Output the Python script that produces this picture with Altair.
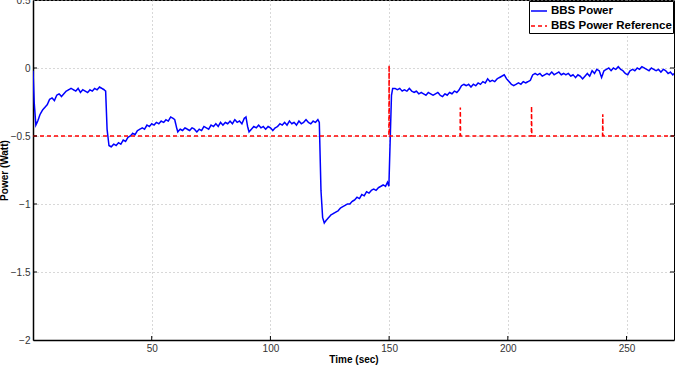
import altair as alt
import pandas as pd

# Measured BBS power (W) vs time (s)
power_t = [0, 0.5, 1.2, 2, 3, 4, 5, 6, 7, 8, 9, 10, 11, 12, 13, 14, 15, 16, 17, 18, 19, 20,
           21, 22, 23, 24, 25, 26, 27, 28, 29, 30, 30.6, 31.2, 32, 33, 34, 35, 36, 37, 38, 39,
           40, 41, 42, 43, 44, 45, 46, 47, 48, 49, 50, 51, 52, 53, 54, 55, 56, 57, 58, 59,
           59.7, 60.5, 61, 62, 63, 64, 65, 66, 67, 68, 69, 70, 71, 72, 73, 74, 75, 76, 77,
           78, 79, 80, 81, 82, 83, 84, 85, 86, 87, 88, 89, 89.7, 90.4, 91, 92, 93, 94, 95,
           96, 97, 98, 99, 100, 101, 102, 103, 104, 105, 106, 107, 108, 109, 110, 111, 112,
           113, 114, 115, 116, 117, 118, 119, 120, 120.6, 121.3, 122, 122.7, 123.5, 124.5,
           125.5, 126.5, 127.5, 128.5, 129.5, 130.5, 131.5, 132.5, 133.5, 134.5, 135.5, 136.5,
           137.5, 138.5, 139.5, 140.5, 141.5, 142.5, 143.5, 144.5, 145.5, 146.5, 147.5, 148.5,
           149.3, 149.9, 150.5, 151, 151.5, 152.5, 153.5, 154.5, 155.5, 156.5, 157.5, 158.5,
           159.5, 160.5, 161.5, 162.5, 163.5, 164.5, 165.5, 166.5, 167.5, 168.5, 169.5, 170.5,
           171.5, 172.5, 173.5, 174.5, 175.5, 176.5, 177.5, 178.5, 179.5, 180.5, 181.5, 182.5,
           183.5, 184.5, 185.5, 186.5, 187.5, 188.5, 189.5, 190.5, 191.5, 192.5, 193.5, 194.5,
           195.5, 196.5, 197.5, 198.5, 199.5, 200.5, 201.5, 202.5, 203.5, 204.5, 205.5, 206.5,
           207.5, 208.5, 209.5, 210.5, 211.5, 212.5, 213.5, 214.5, 215.5, 216.5, 217.5, 218.5,
           219.5, 220.5, 221.5, 222.5, 223.5, 224.5, 225.5, 226.5, 227.5, 228.5, 229.5, 230.5,
           231.5, 232.5, 233.5, 234.5, 235.5, 236.5, 237.5, 238.5, 239.5, 240.5, 241.5, 242.5,
           243.5, 244.5, 245.5, 246.5, 247.5, 248.5, 249.5, 250.5, 251.5, 252.5, 253.5, 254.5,
           255.5, 256.5, 257.5, 258.5, 259.5, 260.5, 261.5, 262.5, 263.5, 264.5, 265.5, 266.5,
           267.5, 268.5, 269.5, 270]
power_p = [-0.02, -0.25, -0.42, -0.39, -0.34, -0.31, -0.29, -0.27, -0.23, -0.22, -0.24, -0.2,
           -0.19, -0.21, -0.19, -0.17, -0.16, -0.15, -0.16, -0.17, -0.15, -0.18, -0.16, -0.17,
           -0.18, -0.16, -0.17, -0.15, -0.16, -0.14, -0.15, -0.16, -0.17, -0.45, -0.57, -0.58,
           -0.56, -0.57, -0.55, -0.56, -0.53, -0.54, -0.51, -0.5, -0.48, -0.49, -0.46, -0.45,
           -0.44, -0.45, -0.42, -0.43, -0.41, -0.42, -0.4, -0.41, -0.39, -0.4, -0.38, -0.39,
           -0.36, -0.37, -0.38, -0.44, -0.47, -0.45, -0.46, -0.44, -0.45, -0.46, -0.44, -0.45,
           -0.47, -0.45, -0.46, -0.43, -0.44, -0.45, -0.42, -0.43, -0.41, -0.43, -0.4, -0.42,
           -0.4, -0.41, -0.39, -0.41, -0.38, -0.4, -0.39, -0.41, -0.37, -0.36, -0.43, -0.47,
           -0.45, -0.43, -0.44, -0.42, -0.44, -0.43, -0.45, -0.43, -0.44, -0.46, -0.44, -0.43,
           -0.41, -0.42, -0.4, -0.42, -0.39, -0.41, -0.4, -0.42, -0.39, -0.41, -0.4, -0.38,
           -0.4, -0.41, -0.39, -0.4, -0.38, -0.4, -0.9, -1.1, -1.14, -1.12, -1.1, -1.08, -1.07,
           -1.06, -1.05, -1.03, -1.02, -1.01, -1.0, -1.0, -0.98, -0.97, -0.95, -0.96, -0.93,
           -0.94, -0.91, -0.92, -0.9, -0.89, -0.9, -0.88, -0.87, -0.86, -0.87, -0.84, -0.87,
           -0.5, -0.2, -0.15, -0.15, -0.16, -0.15, -0.17, -0.16, -0.17, -0.15, -0.17, -0.18,
           -0.17, -0.19, -0.18, -0.19, -0.2, -0.18, -0.19, -0.2, -0.19, -0.18, -0.2, -0.21,
           -0.19, -0.2, -0.18, -0.19, -0.17, -0.18, -0.16, -0.13, -0.12, -0.13, -0.12, -0.14,
           -0.12, -0.13, -0.11, -0.12, -0.1, -0.11, -0.08, -0.1, -0.09, -0.1, -0.08, -0.07,
           -0.06, -0.05, -0.08, -0.1, -0.12, -0.13, -0.12, -0.11, -0.12, -0.1, -0.11, -0.1,
           -0.09, -0.05, -0.04, -0.05, -0.04, -0.06, -0.05, -0.04, -0.05, -0.03, -0.05, -0.04,
           -0.03, -0.05, -0.04, -0.05, -0.04, -0.06, -0.05, -0.07, -0.05, -0.06, -0.08, -0.06,
           -0.04, -0.06, -0.02, -0.04, -0.01, -0.02, -0.07, -0.02, -0.01, 0.0, -0.02, 0.0,
           -0.01, 0.01, -0.01, -0.02, -0.04, -0.05, -0.02, -0.01, -0.02, 0.0, -0.01, 0.01,
           0.0, -0.01, -0.02, 0.0, -0.01, -0.02, -0.01, -0.03, -0.01, -0.02, -0.04, -0.03,
           -0.05, -0.04]

# Power reference (W)
ref_t = [0, 149.9, 150, 150.1, 179.9, 180, 180.1, 209.9, 210, 210.1, 239.9, 240, 240.1, 270]
ref_p = [-0.5, -0.5, 0.02, -0.5, -0.5, -0.29, -0.5, -0.5, -0.28, -0.5, -0.5, -0.34, -0.5, -0.5]

series_names = ["BBS Power", "BBS Power Reference"]
x_ticks = [50, 100, 150, 200, 250]
y_ticks = [0.5, 0, -0.5, -1, -1.5, -2]

rows = [{"t": t, "p": p, "s": series_names[0], "o": i} for i, (t, p) in enumerate(zip(power_t, power_p))]
rows += [{"t": t, "p": p, "s": series_names[1], "o": i} for i, (t, p) in enumerate(zip(ref_t, ref_p))]
df = pd.DataFrame(rows)

FONT = "Liberation Sans"
xscale = alt.Scale(domain=[0, 270], nice=False, zero=False)
yscale = alt.Scale(domain=[-2, 0.5], nice=False, zero=False)

lines = alt.Chart(df).mark_line(strokeWidth=1.5, clip=True).encode(
    x=alt.X("t:Q", scale=xscale,
            axis=alt.Axis(values=x_ticks, title="Time (sec)", grid=True, gridDash=[1, 3],
                          gridColor="#b0b0b0", ticks=False, labelPadding=3, titlePadding=1,
                          domainColor="black", domainWidth=1.5, labelColor="#333",
                          labelFontSize=10, titleFontSize=10, titleFontWeight="bold",
                          labelFont=FONT, titleFont=FONT)),
    y=alt.Y("p:Q", scale=yscale,
            axis=alt.Axis(values=y_ticks, format="~g", title="Power (Watt)", grid=True,
                          gridDash=[1, 3], gridColor="#b0b0b0", ticks=False, labelPadding=3,
                          domainColor="black", domainWidth=1.5, labelColor="#333",
                          labelFontSize=10, titleFontSize=10, titleFontWeight="bold",
                          labelFont=FONT, titleFont=FONT, titleX=-29, titleY=170,
                          titleAngle=270, titleAlign="center", titleBaseline="middle")),
    color=alt.Color("s:N", scale=alt.Scale(domain=series_names, range=["#0000ff", "#ff0000"]),
                    legend=alt.Legend(title=None, orient="top-right", offset=1,
                                      strokeColor="black", fillColor="white", padding=1,
                                      symbolType="stroke", symbolSize=256, symbolStrokeWidth=1.5,
                                      labelFont=FONT, labelFontSize=11.5, labelFontWeight="bold",
                                      labelColor="black", labelOffset=3, rowPadding=0)),
    strokeDash=alt.StrokeDash("s:N", scale=alt.Scale(domain=series_names, range=[[1, 0], [4, 3]]),
                              legend=None),
    order="o:Q",
)

xtick_df = pd.DataFrame({"t": x_ticks})
ytick_df = pd.DataFrame({"p": [v for v in y_ticks if -2 < v < 0.5]})

bottom_ticks = alt.Chart(xtick_df).mark_rule(color="black", strokeWidth=1).encode(
    x=alt.X("t:Q", scale=xscale), y=alt.value(340), y2=alt.value(336))
left_ticks = alt.Chart(ytick_df).mark_rule(color="black", strokeWidth=1).encode(
    y=alt.Y("p:Q", scale=yscale), x=alt.value(0), x2=alt.value(4))
right_ticks = alt.Chart(ytick_df).mark_rule(color="black", strokeWidth=1).encode(
    y=alt.Y("p:Q", scale=yscale), x=alt.value(637), x2=alt.value(641))

chart = alt.layer(lines, bottom_ticks, left_ticks, right_ticks).properties(
    width=641, height=340,
    autosize=alt.AutoSizeParams(type="none"),
    padding={"left": 33, "top": 0, "right": 2, "bottom": 25},
    background="white",
).configure_view(stroke="black", strokeWidth=1)

chart.save("out.html", embed_options={"renderer": "svg", "actions": False})
